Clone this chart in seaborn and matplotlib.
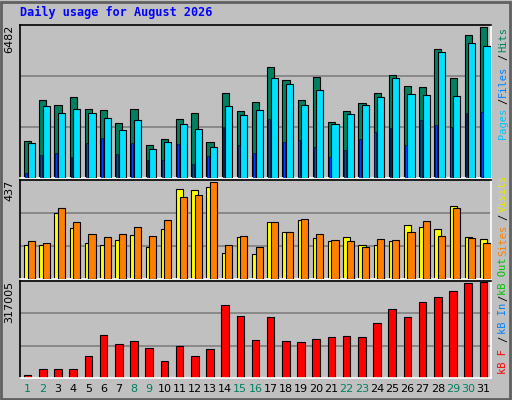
import matplotlib
matplotlib.use('Agg')
import matplotlib.pyplot as plt
import seaborn as sns
import pandas as pd
import numpy as np

days = list(range(1, 32))
hits = [1596, 3347, 3134, 3476, 2963, 2920, 2365, 2963, 1425, 1681, 2536, 2792, 1553, 3618, 2878, 3262,
        4758, 4203, 3348, 4331, 2408, 2878, 3220, 3647, 4416, 3946, 3903, 5527, 4288, 6126, 6482]
files = [1510, 3091, 2792, 2963, 2792, 2578, 2066, 2493, 1254, 1553, 2322, 2108, 1339, 3091, 2707, 2920,
         4288, 4032, 3134, 3775, 2322, 2749, 3134, 3476, 4288, 3604, 3562, 5399, 3519, 5784, 5656]
pages = [228, 997, 1083, 912, 1510, 1724, 1040, 1510, 784, 784, 1467, 613, 955, 2194, 1425, 1083,
         2536, 1553, 1638, 1339, 912, 1211, 1681, 1980, 2151, 1425, 2493, 2279, 2194, 2792, 2835]
visits = [155, 155, 297, 228, 160, 151, 174, 196, 146, 224, 407, 402, 416, 119, 187, 114,
          256, 210, 265, 183, 169, 187, 151, 151, 169, 242, 233, 224, 329, 187, 178]
sites = [169, 160, 320, 256, 201, 187, 201, 233, 192, 265, 370, 379, 437, 155, 192, 142,
         256, 210, 269, 201, 174, 169, 146, 178, 174, 210, 260, 192, 320, 183, 164]
kbytes = [11123, 31144, 31144, 31144, 71187, 141262, 111230, 121241, 97882, 54501, 104556, 71187, 94545,
          241365, 204659, 124578, 201322, 121241, 117903, 127914, 134588, 137925, 134588, 181300,
          228017, 201322, 251376, 268060, 288081, 314000, 317005]
weekend = [1, 2, 8, 9, 15, 16, 22, 23, 29, 30]

bg = '#c0c0c0'
sns.set_style('white')
plt.rcParams['font.family'] = ['DejaVu Sans']

fig = plt.figure(figsize=(5.12, 4.0), dpi=100, facecolor=bg)
W, H = 512.0, 400.0
def box(x0, y0, x1, y1):
    return [x0 / W, 1 - y1 / H, (x1 - x0) / W, (y1 - y0) / H]

ax1 = fig.add_axes(box(20, 25, 491, 178))
ax2 = fig.add_axes(box(20, 180, 491, 279))
ax3 = fig.add_axes(box(20, 281, 491, 378))

x = np.array(days) - 1
ec = dict(edgecolor='black', linewidth=0.8)

# hits / files / pages
ax1.bar(x + 0.27, hits, width=0.47, color='#008060', align='edge', **ec, zorder=2)
ax1.bar(x + 0.50, files, width=0.47, color='#00e0ff', align='edge', **ec, zorder=3)
ax1.bar(x + 0.33, pages, width=0.12, color='#0040ff', align='edge', edgecolor='black', linewidth=0.4, zorder=4)
ax1.set_ylim(0, max(hits) * 1.01)

# visits / sites
ax2.bar(x + 0.27, visits, width=0.47, color='#ffff00', align='edge', **ec, zorder=2)
ax2.bar(x + 0.50, sites, width=0.47, color='#ff8000', align='edge', **ec, zorder=3)
ax2.set_ylim(0, max(sites) * 1.02)

# kB
df = pd.DataFrame({'day': [str(d) for d in days], 'kB': kbytes})
sns.barplot(data=df, x='day', y='kB', ax=ax3, color='#ff0000', saturation=1, width=0.5,
            edgecolor='black', linewidth=0.8, zorder=2)
ax3.set_ylim(0, max(kbytes) * 1.01)

for ax, top in [(ax1, max(hits)), (ax2, max(sites)), (ax3, max(kbytes))]:
    ax.set_facecolor(bg)
    if ax is not ax3:
        ax.set_xlim(0, 31)
    else:
        ax.set_xlim(-0.5, 30.5)
    lo, hi = ax.get_ylim()
    for g in (hi / 3, 2 * hi / 3):
        ax.axhline(g, color='#808080', linewidth=1.2, zorder=1)
    ax.set_xticks([]); ax.set_yticks([])
    ax.set_xlabel(''); ax.set_ylabel('')
    for s in ['top', 'left']:
        ax.spines[s].set_color('black')
    for s in ['bottom', 'right']:
        ax.spines[s].set_color('white')
    for s in ax.spines.values():
        s.set_linewidth(1.2)
    ax.text(-0.012, 1.0, str(top), transform=ax.transAxes, rotation=90, ha='right', va='top',
            fontsize=8, color='black')

for i, d in enumerate(days):
    ax3.text(i, -0.06, str(d), transform=ax3.get_xaxis_transform(), ha='center', va='top', fontsize=8,
             color='#008060' if d in weekend else 'black')

fig.text(20 / W, 1 - 12 / H, 'Daily usage for August 2026', color='#0000ff', fontsize=8.5,
         fontweight='bold', family='DejaVu Sans Mono', ha='left', va='center')

labels = [('Hits', 39, '#008060'), ('/', 57, 'black'), ('Files', 81, '#0080ff'), ('/', 101, 'black'),
          ('Pages', 123, '#00c0ff'),
          ('Visits', 193, '#e8e800'), ('/', 217, 'black'), ('Sites', 240, '#ff8000'),
          ('kB Out', 276, '#00c000'), ('/', 298, 'black'), ('kB In', 318, '#0080ff'), ('/', 339, 'black'),
          ('kB F', 362, '#ff0000')]
for t, yy, c in labels:
    fig.text(503 / W, 1 - yy / H, t, rotation=90, ha='center', va='center', fontsize=7.5,
             family='DejaVu Sans Mono', color=c)

fig.patches.append(plt.Rectangle((0.002, 0.002), 0.994, 0.994, transform=fig.transFigure,
                                 fill=False, edgecolor='#606060', linewidth=2))

fig.savefig('out.png', dpi=100, facecolor=bg)
